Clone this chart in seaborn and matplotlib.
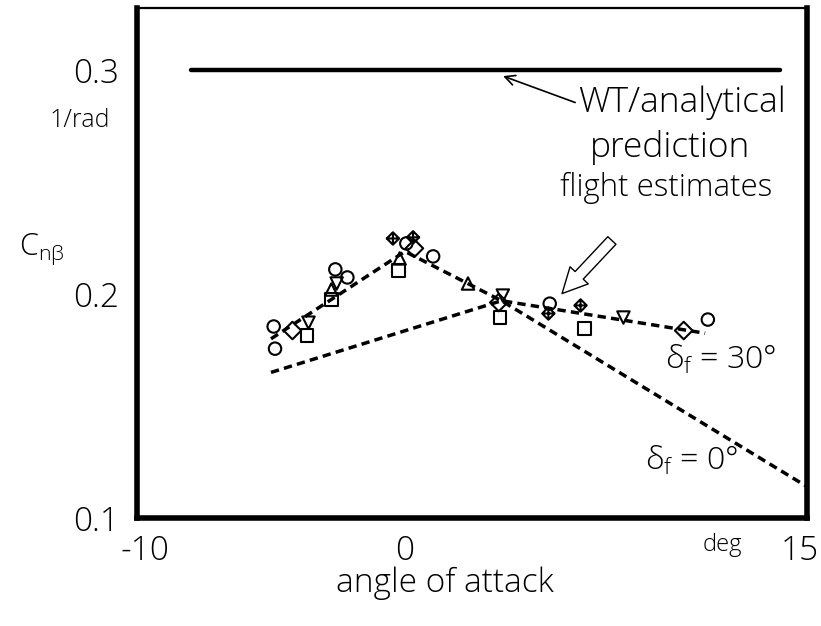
import matplotlib
matplotlib.use("Agg")
import matplotlib.pyplot as plt
import matplotlib.transforms as mtransforms
from matplotlib.path import Path
import pandas as pd
import seaborn as sns

# ---- data -------------------------------------------------------------
# flight estimates of C_n_beta, grouped by plotting symbol
circle_alpha = [-4.9, -4.85, -2.6, -2.15, 0.05, 1.05, 5.4, 11.3]
circle_cn = [0.1855, 0.1756, 0.2110, 0.2074, 0.2226, 0.2168, 0.1957, 0.1886]
square_alpha = [-3.65, -2.75, -0.25, 3.55, 6.7]
square_cn = [0.1814, 0.1975, 0.2105, 0.1895, 0.1846]
tri_up_alpha = [-2.75, -0.2, 2.35]
tri_up_cn = [0.2020, 0.2159, 0.2047]
tri_down_alpha = [-3.6, -2.55, 3.65, 8.15]
tri_down_cn = [0.1872, 0.2047, 0.1993, 0.1895]
diamond_alpha = [-4.2, 0.35, 3.5, 10.4]
diamond_cn = [0.1837, 0.2204, 0.1962, 0.1837]
dplus_alpha = [-0.45, 0.3, 5.35, 6.55]
dplus_cn = [0.2248, 0.2253, 0.1913, 0.1949]

# wind-tunnel / analytical prediction
wt_alpha = [-8.0, 14.0]
wt_cn = [0.3, 0.3]

# fairings through the flight estimates
flap0_alpha = [-5.0, 3.6, 15.0]
flap0_cn = [0.165, 0.197, 0.114]
flap30_alpha = [-5.0, 0.0, 3.6, 11.2]
flap30_cn = [0.180, 0.219, 0.197, 0.1825]

x_ticks = [-10, -5, 0, 5, 10, 15]
x_tick_labels = ["-10", "", "0", "", "", "15"]
y_ticks = [0.1, 0.2, 0.3]
y_tick_labels = ["0.1", "0.2", "0.3"]

# ---- style ------------------------------------------------------------
sns.set_theme(style="white")
plt.rcParams["font.family"] = ["Open Sans", "DejaVu Sans"]
plt.rcParams["font.weight"] = "light"
plt.rcParams["text.color"] = "black"
plt.rcParams["mathtext.fontset"] = "custom"
plt.rcParams["mathtext.rm"] = "Open Sans:light"
plt.rcParams["mathtext.it"] = "Open Sans:italic:light"
plt.rcParams["mathtext.default"] = "rm"

fig = plt.figure(figsize=(8.21, 6.26), dpi=100)
W, H = 821, 626
ax = fig.add_axes([137 / W, 1 - 518 / H, (807 - 137) / W, (518 - 8) / H])

# diamond with a cross inside
dplus_path = Path(
    [(0, 1), (1, 0), (0, -1), (-1, 0), (0, 1), (0, 1), (0, -1), (-1, 0), (1, 0)],
    [Path.MOVETO, Path.LINETO, Path.LINETO, Path.LINETO, Path.CLOSEPOLY,
     Path.MOVETO, Path.LINETO, Path.MOVETO, Path.LINETO],
)

groups = [
    ("circle", circle_alpha, circle_cn),
    ("square", square_alpha, square_cn),
    ("up", tri_up_alpha, tri_up_cn),
    ("down", tri_down_alpha, tri_down_cn),
    ("diamond", diamond_alpha, diamond_cn),
    ("dplus", dplus_alpha, dplus_cn),
]
points = pd.concat(
    [pd.DataFrame({"alpha": a, "cn": c, "symbol": name}) for name, a, c in groups],
    ignore_index=True,
)
marker_map = {"circle": "o", "square": "s", "up": "^", "down": "v",
              "diamond": "D", "dplus": dplus_path}

# lines
sns.lineplot(x=wt_alpha, y=wt_cn, ax=ax, color="black", lw=3.2,
             solid_capstyle="round", estimator=None, sort=False)
dash = (0, (2.4, 1.5))
for a, c in [(flap0_alpha, flap0_cn), (flap30_alpha, flap30_cn)]:
    sns.lineplot(x=a, y=c, ax=ax, color="black", lw=2.5, linestyle=dash,
                 estimator=None, sort=False)

# symbols
sns.scatterplot(data=points, x="alpha", y="cn", style="symbol", markers=marker_map,
                s=80, facecolor="none", edgecolor="black", linewidth=1.5,
                legend=False, ax=ax, zorder=3)

# ---- axes -------------------------------------------------------------
ax.set_xlim(-10, 15)
ax.set_ylim(0.1, 0.3277)
ax.set_xticks(x_ticks)
ax.set_xticklabels(x_tick_labels)
ax.set_yticks(y_ticks)
ax.set_yticklabels(y_tick_labels)
ax.tick_params(direction="in", length=10, width=1.3, color="black",
               labelsize=24, labelcolor="black")
ax.tick_params(axis="x", pad=12)
ax.tick_params(axis="y", pad=13)
ax.set_xlabel("")
ax.set_ylabel("")
for side in ["left", "bottom", "right"]:
    ax.spines[side].set_linewidth(4)
    ax.spines[side].set_color("black")
ax.spines["top"].set_linewidth(1.6)
ax.spines["top"].set_color("black")

# nudge the end labels inward
labels = ax.get_xticklabels()
labels[0].set_transform(labels[0].get_transform()
                        + mtransforms.ScaledTranslation(0.08, 0, fig.dpi_scale_trans))
labels[-1].set_transform(labels[-1].get_transform()
                         + mtransforms.ScaledTranslation(-0.07, 0, fig.dpi_scale_trans))

# ---- text -------------------------------------------------------------
fig.text(445 / W, 1 - 583 / H, "angle of attack", ha="center", va="center", fontsize=24)
fig.text(722 / W, 1 - 545 / H, "deg", ha="center", va="center", fontsize=17)
fig.text(80 / W, 1 - 120 / H, "1/rad", ha="center", va="center", fontsize=18)
fig.text(42 / W, 1 - 249 / H, r"C$_{\mathrm{n\beta}}$", ha="center", va="center",
         fontsize=22)

ax.text(6.46, 0.2852, "WT/analytical", ha="left", va="center", fontsize=25.5)
ax.text(6.9, 0.2655, "prediction", ha="left", va="center", fontsize=25.5)
ax.text(9.74, 0.2472, "flight estimates", ha="center", va="center", fontsize=22.5)
ax.text(9.7, 0.1702, r"δ$_{\mathrm{f}}$ = 30°", ha="left", va="center", fontsize=23)
ax.text(8.96, 0.1255, r"δ$_{\mathrm{f}}$ = 0°", ha="left", va="center", fontsize=23)

# pointer to the prediction line
ax.annotate("", xy=(3.66, 0.2973), xytext=(6.35, 0.2855),
            arrowprops=dict(arrowstyle="->,head_length=0.6,head_width=0.3",
                            color="black", lw=1.2, shrinkA=0, shrinkB=0))
# hollow pointer to the flight estimates
ax.annotate("", xy=(5.86, 0.2002), xytext=(7.72, 0.2239),
            arrowprops=dict(arrowstyle="simple,head_length=0.9,head_width=0.9,tail_width=0.4",
                            mutation_scale=20, fc="white", ec="black", lw=1.0,
                            shrinkA=0, shrinkB=0))

fig.savefig("out.png", dpi=100)
